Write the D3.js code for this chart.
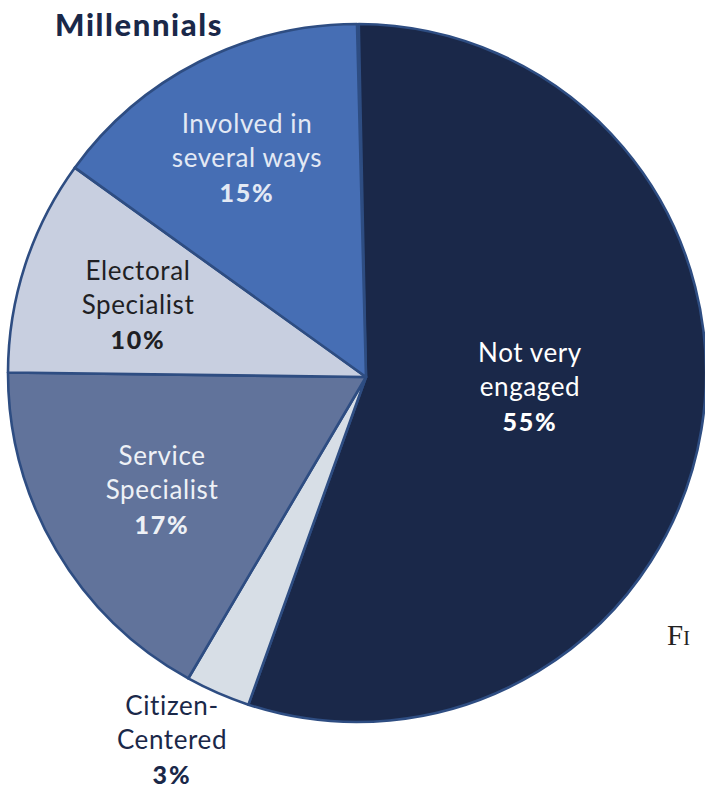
<!DOCTYPE html>
<html>
<head>
<meta charset="utf-8">
<script src="https://cdn.jsdelivr.net/npm/d3@7/dist/d3.min.js"></script>
<style>
  html, body { margin: 0; padding: 0; background: #fff; }
  svg { display: block; }
</style>
</head>
<body>
<svg id="chart" width="705" height="788"></svg>
<script>
// Engagement profile of Millennials (share of respondents, %)
const categories = ["Not very engaged", "Citizen-Centered", "Service Specialist", "Electoral Specialist", "Involved in several ways"];
const values = [55, 3, 17, 10, 15];
const labelLines = [["Not very", "engaged"], ["Citizen-", "Centered"], ["Service", "Specialist"], ["Electoral", "Specialist"], ["Involved in", "several ways"]];
const fills = ["#1a2849", "#d7dee6", "#61739b", "#c8cfe0", "#466eb4"];
const textColors = ["#ffffff", "#1a2849", "#eef1f6", "#1f1f24", "#e3e9f4"];

const svg = d3.select("#chart");
const cx = 357, cy = 373, R = 349;
// the slices meet slightly right of the disc centre
const vx = 366, vy = 377;

const pie = d3.pie().value(d => d).sort(null).startAngle(0.005);
const arcs = pie(values);

function slicePath(a) {
  const p = d3.path();
  p.moveTo(vx, vy);
  p.arc(cx, cy, R, a.startAngle - Math.PI / 2, a.endAngle - Math.PI / 2);
  p.closePath();
  return p.toString();
}

svg.append("g").selectAll("path")
  .data(arcs)
  .join("path")
  .attr("d", slicePath)
  .attr("fill", (d, i) => fills[i])
  .attr("stroke", "#2e4d82")
  .attr("stroke-width", 2.6)
  .attr("stroke-linejoin", "round");

// label anchor points (centre x, first baseline y)
const labelPos = [[530, 362], [172, 715], [162, 465], [138, 280], [247, 133]];
const lineGap = 34;

const labels = svg.append("g")
  .attr("font-family", "Lato, 'Open Sans', sans-serif")
  .attr("text-anchor", "middle");

arcs.forEach((a, i) => {
  const [x, y] = labelPos[i];
  const g = labels.append("g").attr("fill", textColors[i]);
  labelLines[i].forEach((t, k) => {
    g.append("text")
      .attr("x", x).attr("y", y + k * lineGap)
      .attr("font-size", 26)
      .attr("letter-spacing", 0.6)
      .text(t);
  });
  g.append("text")
    .attr("x", x).attr("y", y + 2 * lineGap + 1)
    .attr("font-size", 25)
    .attr("font-weight", 900)
    .attr("letter-spacing", 1.8)
    .text(values[i] + "%");
});

// title
svg.append("text")
  .attr("x", 55).attr("y", 36)
  .attr("font-family", "Lato, sans-serif")
  .attr("font-size", 31)
  .attr("font-weight", 900)
  .attr("letter-spacing", 1.6)
  .attr("fill", "#1a2849")
  .text("Millennials");

// start of the following figure caption
svg.append("text")
  .attr("x", 667).attr("y", 645)
  .attr("font-family", "'Liberation Serif', serif")
  .attr("font-size", 29)
  .attr("fill", "#222")
  .style("font-variant", "small-caps")
  .text("Fi");
</script>
</body>
</html>
